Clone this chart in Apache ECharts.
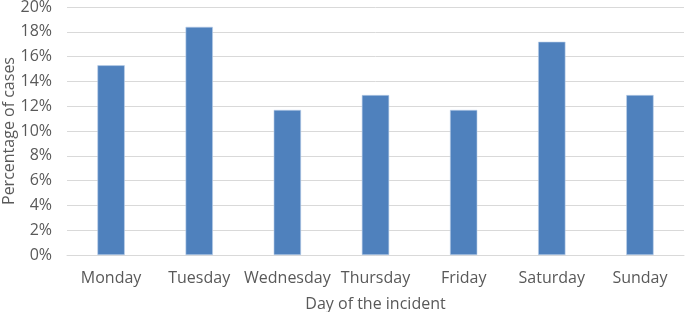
<!DOCTYPE html>
<html>
<head>
<meta charset="utf-8">
<script src="https://cdn.jsdelivr.net/npm/echarts@6/dist/echarts.min.js"></script>
<style>html,body{margin:0;padding:0;background:#fff}#c{width:685px;height:312px}</style>
</head>
<body>
<div id="c"></div>
<script>
const categories = ['Monday','Tuesday','Wednesday','Thursday','Friday','Saturday','Sunday'];
const percentages = [15.3, 18.4, 11.7, 12.9, 11.7, 17.2, 12.9];
const yTicks = [0,2,4,6,8,10,12,14,16,18,20];

const chart = echarts.init(document.getElementById('c'), null, {renderer:'canvas'});
const font = 'Open Sans';
chart.setOption({
  animation:false,
  backgroundColor:'#fff',
  grid:{left:67, right:1, top:7, bottom:57, containLabel:false, outerBoundsMode:'none'},
  xAxis:{
    type:'category', data:categories,
    name:'Day of the incident', nameLocation:'middle', nameGap:41, nameMoveOverlap:false,
    nameTextStyle:{color:'#595959', fontSize:16, fontFamily:font},
    axisLine:{lineStyle:{color:'#D9D9D9', width:1}},
    axisTick:{show:false},
    axisLabel:{color:'#595959', fontSize:16, fontFamily:font, margin:15, interval:0},
    splitLine:{show:false}
  },
  yAxis:{
    type:'value', min:yTicks[0], max:yTicks[yTicks.length-1], interval:2,
    name:'Percentage of cases', nameLocation:'middle', nameGap:50, nameMoveOverlap:false,
    nameTextStyle:{color:'#595959', fontSize:16, fontFamily:font},
    axisLine:{show:false}, axisTick:{show:false},
    axisLabel:{color:'#595959', fontSize:16, fontFamily:font, margin:15, formatter:v=>v+'%'},
    splitLine:{lineStyle:{color:'#D9D9D9', width:1}}
  },
  series:[{
    type:'bar', data:percentages, barWidth:'31%',
    itemStyle:{color:'#4F81BD', borderColor:'#BCD0EA', borderWidth:0.6}
  }]
});
</script>
</body>
</html>
